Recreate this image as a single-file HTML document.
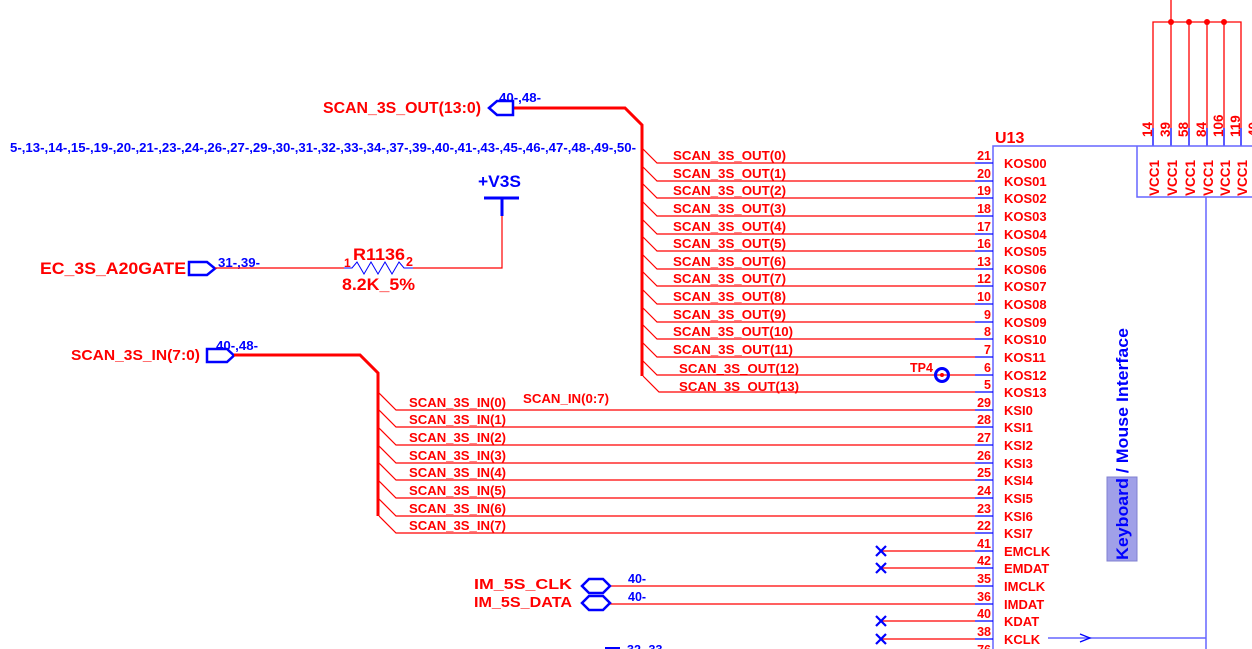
<!DOCTYPE html>
<html><head><meta charset="utf-8"><style>
html,body{margin:0;padding:0;background:#fff;}
svg{display:block;font-family:"Liberation Sans",Arial,sans-serif;font-weight:bold;}
.r{fill:#f00;} .b{fill:#00f;}
</style></head><body>
<svg width="1252" height="649" viewBox="0 0 1252 649" xmlns="http://www.w3.org/2000/svg">
<!-- VCC top -->
<g stroke="#f00" stroke-width="1.3" fill="none">
<line x1="1171" y1="0" x2="1171" y2="22"/>
<polyline points="1153,128 1153,22 1241,22 1241,128"/>
<line x1="1171" y1="22" x2="1171" y2="128"/><line x1="1189" y1="22" x2="1189" y2="128"/>
<line x1="1207" y1="22" x2="1207" y2="128"/><line x1="1224" y1="22" x2="1224" y2="128"/>
</g>
<g fill="#f00"><circle cx="1171" cy="22" r="3"/><circle cx="1189" cy="22" r="3"/><circle cx="1207" cy="22" r="3"/><circle cx="1224" cy="22" r="3"/></g>
<g stroke="#00f" stroke-width="1.3">
<line x1="1153" y1="128" x2="1153" y2="146"/><line x1="1171" y1="128" x2="1171" y2="146"/><line x1="1189" y1="128" x2="1189" y2="146"/><line x1="1207" y1="128" x2="1207" y2="146"/><line x1="1224" y1="128" x2="1224" y2="146"/><line x1="1241" y1="128" x2="1241" y2="146"/>
</g>
<g class="r" font-size="13.5">
<text transform="translate(1152,137) rotate(-90)">14</text>
<text transform="translate(1170,137) rotate(-90)">39</text>
<text transform="translate(1188,137) rotate(-90)">58</text>
<text transform="translate(1206,137) rotate(-90)">84</text>
<text transform="translate(1223,137) rotate(-90)">106</text>
<text transform="translate(1240,137) rotate(-90)">119</text>
<text transform="translate(1258,137) rotate(-90)">40</text>
<text transform="translate(1159,196) rotate(-90)">VCC1</text>
<text transform="translate(1177,196) rotate(-90)">VCC1</text>
<text transform="translate(1195,196) rotate(-90)">VCC1</text>
<text transform="translate(1213,196) rotate(-90)">VCC1</text>
<text transform="translate(1230,196) rotate(-90)">VCC1</text>
<text transform="translate(1247,196) rotate(-90)">VCC1</text>
</g>
<!-- U13 box -->
<g stroke="#66f" stroke-width="1.5" fill="none">
<polyline points="993,649 993,146 1252,146"/>
<polyline points="1137,146 1137,197 1252,197"/>
<line x1="1206" y1="197" x2="1206" y2="649"/>
<line x1="1048" y1="638" x2="1206" y2="638"/>
</g>
<text x="995" y="143" class="r" font-size="16">U13</text>
<rect x="1107" y="477" width="30" height="84" fill="#a0a0e8" stroke="#8080d0"/>
<text transform="translate(1128,560) rotate(-90)" class="b" font-size="17" textLength="232" lengthAdjust="spacingAndGlyphs">Keyboard / Mouse Interface</text>

<!-- pins -->
<g stroke="#00f" stroke-width="1.3">
<line x1="975" y1="163" x2="993" y2="163"/><line x1="975" y1="181" x2="993" y2="181"/><line x1="975" y1="198" x2="993" y2="198"/><line x1="975" y1="216" x2="993" y2="216"/><line x1="975" y1="234" x2="993" y2="234"/><line x1="975" y1="251" x2="993" y2="251"/><line x1="975" y1="269" x2="993" y2="269"/><line x1="975" y1="286" x2="993" y2="286"/><line x1="975" y1="304" x2="993" y2="304"/><line x1="975" y1="322" x2="993" y2="322"/><line x1="975" y1="339" x2="993" y2="339"/><line x1="975" y1="357" x2="993" y2="357"/><line x1="975" y1="375" x2="993" y2="375"/><line x1="975" y1="392" x2="993" y2="392"/><line x1="975" y1="410" x2="993" y2="410"/><line x1="975" y1="427" x2="993" y2="427"/><line x1="975" y1="445" x2="993" y2="445"/><line x1="975" y1="463" x2="993" y2="463"/><line x1="975" y1="480" x2="993" y2="480"/><line x1="975" y1="498" x2="993" y2="498"/><line x1="975" y1="516" x2="993" y2="516"/><line x1="975" y1="533" x2="993" y2="533"/><line x1="975" y1="551" x2="993" y2="551"/><line x1="975" y1="568" x2="993" y2="568"/><line x1="975" y1="586" x2="993" y2="586"/><line x1="975" y1="604" x2="993" y2="604"/><line x1="975" y1="621" x2="993" y2="621"/><line x1="975" y1="639" x2="993" y2="639"/>
</g>
<g class="r" font-size="12.5" text-anchor="end">
<text x="991" y="160">21</text><text x="991" y="178">20</text><text x="991" y="195">19</text><text x="991" y="213">18</text><text x="991" y="231">17</text><text x="991" y="248">16</text><text x="991" y="266">13</text><text x="991" y="283">12</text><text x="991" y="301">10</text><text x="991" y="319">9</text><text x="991" y="336">8</text><text x="991" y="354">7</text><text x="991" y="372">6</text><text x="991" y="389">5</text><text x="991" y="407">29</text><text x="991" y="424">28</text><text x="991" y="442">27</text><text x="991" y="460">26</text><text x="991" y="477">25</text><text x="991" y="495">24</text><text x="991" y="513">23</text><text x="991" y="530">22</text><text x="991" y="548">41</text><text x="991" y="565">42</text><text x="991" y="583">35</text><text x="991" y="601">36</text><text x="991" y="618">40</text><text x="991" y="636">38</text><text x="991" y="654">76</text>
</g>
<g class="r" font-size="13">
<text x="1004" y="168">KOS00</text><text x="1004" y="186">KOS01</text><text x="1004" y="203">KOS02</text><text x="1004" y="221">KOS03</text><text x="1004" y="239">KOS04</text><text x="1004" y="256">KOS05</text><text x="1004" y="274">KOS06</text><text x="1004" y="291">KOS07</text><text x="1004" y="309">KOS08</text><text x="1004" y="327">KOS09</text><text x="1004" y="344">KOS10</text><text x="1004" y="362">KOS11</text><text x="1004" y="380">KOS12</text><text x="1004" y="397">KOS13</text><text x="1004" y="415">KSI0</text><text x="1004" y="432">KSI1</text><text x="1004" y="450">KSI2</text><text x="1004" y="468">KSI3</text><text x="1004" y="485">KSI4</text><text x="1004" y="503">KSI5</text><text x="1004" y="521">KSI6</text><text x="1004" y="538">KSI7</text><text x="1004" y="556">EMCLK</text><text x="1004" y="573">EMDAT</text><text x="1004" y="591">IMCLK</text><text x="1004" y="609">IMDAT</text><text x="1004" y="626">KDAT</text><text x="1004" y="644">KCLK</text>
</g>

<!-- SCAN_3S_OUT bus -->
<polyline points="513,108 625,108 642,125 642,376" stroke="#f00" stroke-width="3" fill="none"/>
<g stroke="#f00" stroke-width="1.2" fill="none">
<path d="M643,149 L657,163 H975"/><path d="M643,167 L657,181 H975"/><path d="M643,184 L657,198 H975"/><path d="M643,202 L657,216 H975"/><path d="M643,220 L657,234 H975"/><path d="M643,237 L657,251 H975"/><path d="M643,255 L657,269 H975"/><path d="M643,272 L657,286 H975"/><path d="M643,290 L657,304 H975"/><path d="M643,308 L657,322 H975"/><path d="M643,325 L657,339 H975"/><path d="M643,343 L657,357 H975"/><path d="M643,361 L657,375 H975"/><path d="M643,376 L659,392 H975"/>
</g>
<g class="r" font-size="13">
<text x="673" y="160" textLength="113" lengthAdjust="spacingAndGlyphs">SCAN_3S_OUT(0)</text><text x="673" y="178" textLength="113" lengthAdjust="spacingAndGlyphs">SCAN_3S_OUT(1)</text><text x="673" y="195" textLength="113" lengthAdjust="spacingAndGlyphs">SCAN_3S_OUT(2)</text><text x="673" y="213" textLength="113" lengthAdjust="spacingAndGlyphs">SCAN_3S_OUT(3)</text><text x="673" y="231" textLength="113" lengthAdjust="spacingAndGlyphs">SCAN_3S_OUT(4)</text><text x="673" y="248" textLength="113" lengthAdjust="spacingAndGlyphs">SCAN_3S_OUT(5)</text><text x="673" y="266" textLength="113" lengthAdjust="spacingAndGlyphs">SCAN_3S_OUT(6)</text><text x="673" y="283" textLength="113" lengthAdjust="spacingAndGlyphs">SCAN_3S_OUT(7)</text><text x="673" y="301" textLength="113" lengthAdjust="spacingAndGlyphs">SCAN_3S_OUT(8)</text><text x="673" y="319" textLength="113" lengthAdjust="spacingAndGlyphs">SCAN_3S_OUT(9)</text><text x="673" y="336" textLength="120" lengthAdjust="spacingAndGlyphs">SCAN_3S_OUT(10)</text><text x="673" y="354" textLength="120" lengthAdjust="spacingAndGlyphs">SCAN_3S_OUT(11)</text><text x="679" y="373" textLength="120" lengthAdjust="spacingAndGlyphs">SCAN_3S_OUT(12)</text><text x="679" y="391" textLength="120" lengthAdjust="spacingAndGlyphs">SCAN_3S_OUT(13)</text>
</g>
<polygon points="489,108 497,101 513,101 513,115 497,115" fill="none" stroke="#00f" stroke-width="2.5"/>
<text x="499" y="102" class="b" font-size="12.5" textLength="42" lengthAdjust="spacingAndGlyphs">40-,48-</text>
<text x="323" y="113" class="r" font-size="15.5" textLength="158" lengthAdjust="spacingAndGlyphs">SCAN_3S_OUT(13:0)</text>
<text x="10" y="152" class="b" font-size="12.5" textLength="626" lengthAdjust="spacingAndGlyphs">5-,13-,14-,15-,19-,20-,21-,23-,24-,26-,27-,29-,30-,31-,32-,33-,34-,37-,39-,40-,41-,43-,45-,46-,47-,48-,49-,50-</text>

<!-- TP4 -->
<circle cx="942" cy="375" r="6.5" fill="none" stroke="#00f" stroke-width="3"/>
<circle cx="942" cy="375" r="2" fill="#f00"/>
<text x="910" y="372" class="r" font-size="12.5">TP4</text>

<!-- EC A20GATE -->
<polygon points="189,262 207,262 215,268.5 207,275 189,275" fill="none" stroke="#00f" stroke-width="2.5"/>
<text x="218" y="267" class="b" font-size="12.5" textLength="42" lengthAdjust="spacingAndGlyphs">31-,39-</text>
<text x="40" y="274" class="r" font-size="16.5" textLength="146" lengthAdjust="spacingAndGlyphs">EC_3S_A20GATE</text>
<polyline points="215,268 344,268" stroke="#f00" stroke-width="1.2" fill="none"/>
<polyline points="344,268 352,268 357,262 364,274 371,262 378,274 385,262 392,274 399,262 404,268 413,268" stroke="#00f" stroke-width="1" fill="none"/>
<polyline points="413,268 502,268 502,215" stroke="#f00" stroke-width="1.2" fill="none"/>
<line x1="484" y1="198" x2="519" y2="198" stroke="#00f" stroke-width="3"/>
<line x1="502" y1="198" x2="502" y2="216" stroke="#00f" stroke-width="3"/>
<text x="478" y="187" class="b" font-size="16.5" textLength="43" lengthAdjust="spacingAndGlyphs">+V3S</text>
<text x="353" y="260" class="r" font-size="16.5" textLength="52" lengthAdjust="spacingAndGlyphs">R1136</text>
<text x="344" y="267" class="r" font-size="12">1</text>
<text x="406" y="266" class="r" font-size="12.5">2</text>
<text x="342" y="290" class="r" font-size="16.5" textLength="73" lengthAdjust="spacingAndGlyphs">8.2K_5%</text>

<!-- SCAN_3S_IN bus -->
<polygon points="207,349 227,349 234,355.5 227,362 207,362" fill="none" stroke="#00f" stroke-width="2.5"/>
<text x="216" y="350" class="b" font-size="12.5" textLength="42" lengthAdjust="spacingAndGlyphs">40-,48-</text>
<text x="71" y="360" class="r" font-size="15" textLength="129" lengthAdjust="spacingAndGlyphs">SCAN_3S_IN(7:0)</text>
<polyline points="234,355 360,355 378,373 378,516" stroke="#f00" stroke-width="3" fill="none"/>
<g stroke="#f00" stroke-width="1.2" fill="none">
<path d="M379,393 L396,410 H975"/><path d="M379,410 L396,427 H975"/><path d="M379,428 L396,445 H975"/><path d="M379,446 L396,463 H975"/><path d="M379,463 L396,480 H975"/><path d="M379,481 L396,498 H975"/><path d="M379,499 L396,516 H975"/><path d="M379,516 L396,533 H975"/>
</g>
<g class="r" font-size="13">
<text x="409" y="407" textLength="97" lengthAdjust="spacingAndGlyphs">SCAN_3S_IN(0)</text><text x="409" y="424" textLength="97" lengthAdjust="spacingAndGlyphs">SCAN_3S_IN(1)</text><text x="409" y="442" textLength="97" lengthAdjust="spacingAndGlyphs">SCAN_3S_IN(2)</text><text x="409" y="460" textLength="97" lengthAdjust="spacingAndGlyphs">SCAN_3S_IN(3)</text><text x="409" y="477" textLength="97" lengthAdjust="spacingAndGlyphs">SCAN_3S_IN(4)</text><text x="409" y="495" textLength="97" lengthAdjust="spacingAndGlyphs">SCAN_3S_IN(5)</text><text x="409" y="513" textLength="97" lengthAdjust="spacingAndGlyphs">SCAN_3S_IN(6)</text><text x="409" y="530" textLength="97" lengthAdjust="spacingAndGlyphs">SCAN_3S_IN(7)</text>
<text x="523" y="403" textLength="86" lengthAdjust="spacingAndGlyphs">SCAN_IN(0:7)</text>
</g>

<!-- no-connects -->
<g stroke="#f00" stroke-width="1.2">
<line x1="881" y1="551" x2="975" y2="551"/><line x1="881" y1="568" x2="975" y2="568"/><line x1="881" y1="621" x2="975" y2="621"/><line x1="881" y1="639" x2="975" y2="639"/>
<line x1="610" y1="586" x2="975" y2="586"/><line x1="610" y1="604" x2="975" y2="604"/>
</g>
<g stroke="#00f" stroke-width="2.2">
<path d="M876,546 l10,10 M886,546 l-10,10"/><path d="M876,563 l10,10 M886,563 l-10,10"/><path d="M876,616 l10,10 M886,616 l-10,10"/><path d="M876,634 l10,10 M886,634 l-10,10"/>
</g>
<!-- IM ports -->
<polygon points="582,586 589,579 603,579 610,586 603,593 589,593" fill="none" stroke="#00f" stroke-width="2.5"/>
<polygon points="582,603 589,596 603,596 610,603 603,610 589,610" fill="none" stroke="#00f" stroke-width="2.5"/>
<text x="628" y="583" class="b" font-size="12.5">40-</text>
<text x="628" y="601" class="b" font-size="12.5">40-</text>
<text x="474" y="589" class="r" font-size="14.5" textLength="98" lengthAdjust="spacingAndGlyphs">IM_5S_CLK</text>
<text x="474" y="607" class="r" font-size="14.5" textLength="98" lengthAdjust="spacingAndGlyphs">IM_5S_DATA</text>
<line x1="605" y1="648" x2="620" y2="648" stroke="#00f" stroke-width="2"/>
<text x="627" y="654" class="b" font-size="12.5">32-,33-</text>
<path d="M1080,634 L1090,638 L1080,642" fill="none" stroke="#00f" stroke-width="1.3"/>
</svg>
</body></html>
